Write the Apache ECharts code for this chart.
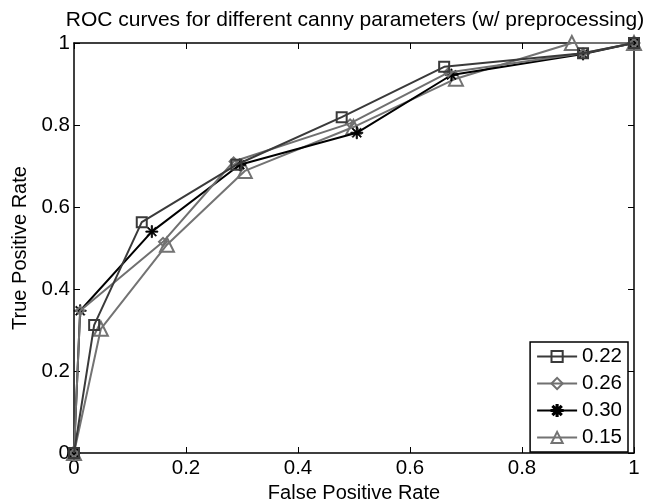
<!DOCTYPE html>
<html>
<head>
<meta charset="utf-8">
<script src="https://cdn.jsdelivr.net/npm/echarts@6/dist/echarts.min.js"></script>
<style>html,body{margin:0;padding:0;background:#fff;}#c{width:661px;height:502px;}</style>
</head>
<body>
<div id="c"></div>
<script>
const seriesNames = ['0.22', '0.26', '0.30', '0.15'];
const fpr022 = [0, 0.036, 0.121, 0.290, 0.478, 0.661, 0.909, 1];
const tpr022 = [0, 0.312, 0.563, 0.703, 0.819, 0.942, 0.975, 1];
const fpr026 = [0, 0.011, 0.159, 0.285, 0.493, 0.668, 0.909, 1];
const tpr026 = [0, 0.347, 0.515, 0.711, 0.804, 0.928, 0.975, 1];
const fpr030 = [0, 0.011, 0.139, 0.296, 0.505, 0.674, 0.909, 1];
const tpr030 = [0, 0.347, 0.540, 0.703, 0.781, 0.922, 0.973, 1];
const fpr015 = [0, 0.048, 0.166, 0.305, 0.499, 0.682, 0.889, 1];
const tpr015 = [0, 0.303, 0.508, 0.688, 0.795, 0.913, 1.000, 1];
const tickValues = [0, 0.2, 0.4, 0.6, 0.8, 1];

const FONT = 'Liberation Sans';
const pair = (xs, ys) => xs.map((x, i) => [x, ys[i]]);
const star = 'path://M9,0 L11,0 L11,20 L9,20 Z M0,9 L20,9 L20,11 L0,11 Z M2.2,3.6 L3.6,2.2 L17.8,16.4 L16.4,17.8 Z M3.6,17.8 L2.2,16.4 L16.4,2.2 L17.8,3.6 Z';
const fmt = v => (v === 0 || v === 1) ? String(v) : v.toFixed(1);

const styles = [
  {color: '#3a3a3a', symbol: 'rect', size: 10},
  {color: '#707070', symbol: 'diamond', size: 8},
  {color: '#000000', symbol: star, size: 12},
  {color: '#737373', symbol: 'triangle', size: 14}
];
const datas = [pair(fpr022, tpr022), pair(fpr026, tpr026), pair(fpr030, tpr030), pair(fpr015, tpr015)];

const series = seriesNames.map((n, i) => ({
  name: n,
  type: 'line',
  data: datas[i],
  xAxisIndex: 0, yAxisIndex: 0,
  symbol: styles[i].symbol,
  symbolSize: styles[i].size,
  showAllSymbol: true,
  lineStyle: {color: styles[i].color, width: 2},
  itemStyle: i === 2 ? {color: '#000', borderColor: '#000', borderWidth: 0.8}
                     : {color: 'rgba(255,255,255,0)', borderColor: styles[i].color, borderWidth: 2},
  emphasis: {disabled: true},
  animation: false,
  z: 2 + (3 - i)
}));

const baseAxis = {
  min: 0, max: 1, interval: 0.2,
  axisLine: {show: true, onZero: false, lineStyle: {color: '#000', width: 1.5}},
  axisTick: {show: true, inside: true, length: 6, lineStyle: {color: '#000', width: 1}},
  splitLine: {show: false}
};

const chart = echarts.init(document.getElementById('c'), null, {renderer: 'canvas'});
chart.setOption({
  backgroundColor: '#fff',
  animation: false,
  title: {
    text: 'ROC curves for different canny parameters (w/ preprocessing)',
    left: 350, top: 5, textAlign: 'center',
    textStyle: {fontFamily: FONT, fontSize: 21, fontWeight: 'normal', color: '#000'}
  },
  grid: {left: 74, right: 27, top: 43, bottom: 49, containLabel: false, outerBoundsMode: 'none'},
  legend: {
    data: seriesNames,
    orient: 'vertical',
    right: 33, top: 342,
    backgroundColor: '#fff',
    borderColor: '#000', borderWidth: 1.5,
    padding: [4, 6, 4, 6],
    itemWidth: 40, itemHeight: 14, itemGap: 6,
    textStyle: {fontFamily: FONT, fontSize: 20.5, color: '#000'}
  },
  xAxis: [
    Object.assign({}, baseAxis, {
      type: 'value', position: 'bottom',
      name: 'False Positive Rate', nameLocation: 'middle', nameGap: 30,
      nameTextStyle: {fontFamily: FONT, fontSize: 20, color: '#000'},
      axisLabel: {fontFamily: FONT, fontSize: 20.5, color: '#000', margin: 5, formatter: fmt}
    }),
    Object.assign({}, baseAxis, {type: 'value', position: 'top', axisLabel: {show: false}})
  ],
  yAxis: [
    Object.assign({}, baseAxis, {
      type: 'value', position: 'left',
      name: 'True Positive Rate', nameLocation: 'middle', nameGap: 44,
      nameTextStyle: {fontFamily: FONT, fontSize: 20, color: '#000'},
      axisLabel: {fontFamily: FONT, fontSize: 20.5, color: '#000', margin: 4, formatter: fmt}
    }),
    Object.assign({}, baseAxis, {type: 'value', position: 'right', axisLabel: {show: false}})
  ],
  series: series
});
</script>
</body>
</html>
